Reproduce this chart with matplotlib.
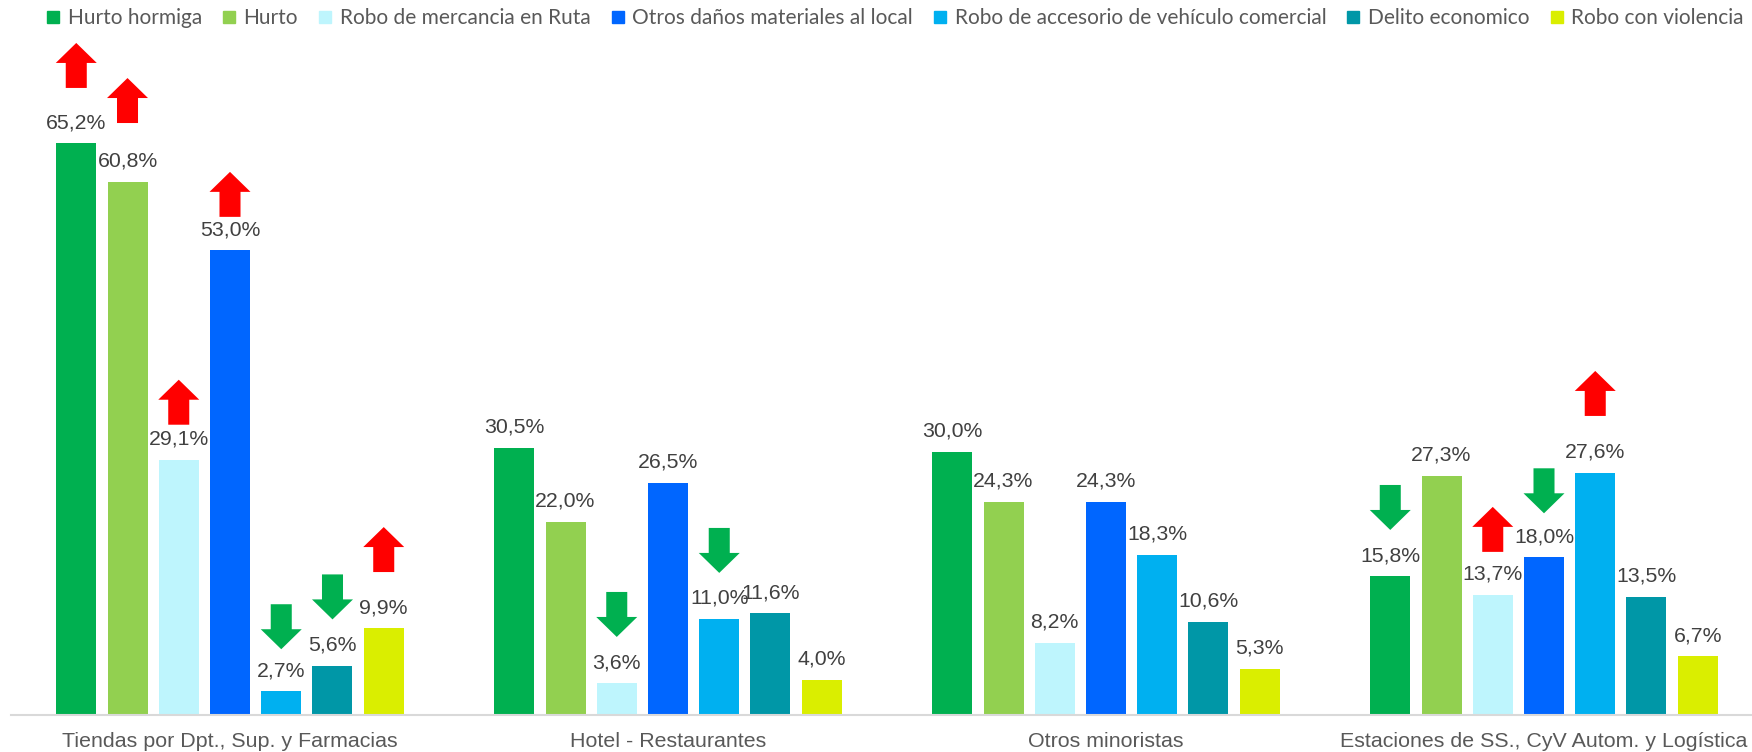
import numpy as np
import matplotlib.pyplot as plt
from matplotlib.patches import Polygon
from matplotlib.lines import Line2D

categorias = ['Tiendas por Dpt., Sup. y Farmacias', 'Hotel - Restaurantes',
              'Otros minoristas', 'Estaciones de SS., CyV Autom. y Logística']
series = ['Hurto hormiga', 'Hurto', 'Robo de mercancia en Ruta',
          'Otros daños materiales al local', 'Robo de accesorio de vehículo comercial',
          'Delito economico', 'Robo con violencia']
hurto_hormiga = [65.2, 30.5, 30.0, 15.8]
hurto = [60.8, 22.0, 24.3, 27.3]
robo_mercancia = [29.1, 3.6, 8.2, 13.7]
otros_danos = [53.0, 26.5, 24.3, 18.0]
robo_accesorio = [2.7, 11.0, 18.3, 27.6]
delito_economico = [5.6, 11.6, 10.6, 13.5]
robo_violencia = [9.9, 4.0, 5.3, 6.7]
valores = [hurto_hormiga, hurto, robo_mercancia, otros_danos,
           robo_accesorio, delito_economico, robo_violencia]
colores = ['#00B050', '#92D050', '#BEF5FD', '#0066FF', '#00B0F0', '#0097A7', '#DAEE00']

# flechas: (categoria, serie, direccion, nivel de la punta/base en %)
flechas = [(0, 0, 'up', 71.5), (0, 1, 'up', 67.5), (0, 2, 'up', 33.1),
           (0, 3, 'up', 56.8), (0, 6, 'up', 16.3),
           (0, 4, 'down', 7.5), (0, 5, 'down', 10.9),
           (1, 2, 'down', 8.9), (1, 4, 'down', 16.2),
           (3, 0, 'down', 21.1), (3, 2, 'up', 18.6),
           (3, 3, 'down', 23.0), (3, 4, 'up', 34.1)]

fig = plt.figure(figsize=(17.52, 7.52), dpi=100)
ax = fig.add_axes([11 / 1752, 37 / 752, 1 - 11 / 1752, 675 / 752])

x = np.arange(len(categorias))
paso = 0.117
ancho = 0.0913
for i, (vals, col) in enumerate(zip(valores, colores)):
    pos = x + (i - 3) * paso
    bars = ax.bar(pos, vals, ancho, color=col, label=series[i])
    for b, v in zip(bars, vals):
        ax.annotate(f'{v:.1f}%'.replace('.', ','), (b.get_x() + b.get_width() / 2, v),
                    xytext=(0, 8), textcoords='offset points', ha='center', va='bottom',
                    fontsize=15.3, color='#404040', family='Liberation Sans')

cabeza_w, cuerpo_w = 0.0936, 0.048
alto, cabeza_h = 5.13, 2.28
for c, s, d, y0 in flechas:
    xc = x[c] + (s - 3) * paso
    if d == 'up':
        pts = [(xc - cuerpo_w / 2, y0), (xc + cuerpo_w / 2, y0),
               (xc + cuerpo_w / 2, y0 + alto - cabeza_h), (xc + cabeza_w / 2, y0 + alto - cabeza_h),
               (xc, y0 + alto), (xc - cabeza_w / 2, y0 + alto - cabeza_h),
               (xc - cuerpo_w / 2, y0 + alto - cabeza_h)]
        col = '#FF0000'
    else:
        pts = [(xc - cuerpo_w / 2, y0 + alto), (xc + cuerpo_w / 2, y0 + alto),
               (xc + cuerpo_w / 2, y0 + cabeza_h), (xc + cabeza_w / 2, y0 + cabeza_h),
               (xc, y0), (xc - cabeza_w / 2, y0 + cabeza_h),
               (xc - cuerpo_w / 2, y0 + cabeza_h)]
        col = '#00B050'
    ax.add_patch(Polygon(pts, closed=True, color=col, lw=0))

ax.set_xlim(-0.5, 3.5 - 11 / 438)
ax.set_ylim(0, 675 / 8.77)
for s in ['top', 'right', 'left']:
    ax.spines[s].set_visible(False)
ax.spines['bottom'].set_color('#D9D9D9')
ax.spines['bottom'].set_linewidth(1.5)
ax.set_yticks([])
ax.set_xticks(x)
ax.set_xticklabels(categorias, fontsize=15.4, color='#595959', family='Liberation Sans')
ax.tick_params(axis='x', length=0, pad=12)

handles = [Line2D([], [], marker='s', ls='', color=c, markersize=9) for c in colores]
fig.legend(handles, series, loc='upper right', bbox_to_anchor=(1.0, 1.0), ncol=7,
           frameon=False, handlelength=0.6, handletextpad=0.4, columnspacing=1.0,
           borderaxespad=0.0, prop={'family': 'Lato', 'size': 15}, labelcolor='#595959')

fig.savefig('out.png', dpi=100)
